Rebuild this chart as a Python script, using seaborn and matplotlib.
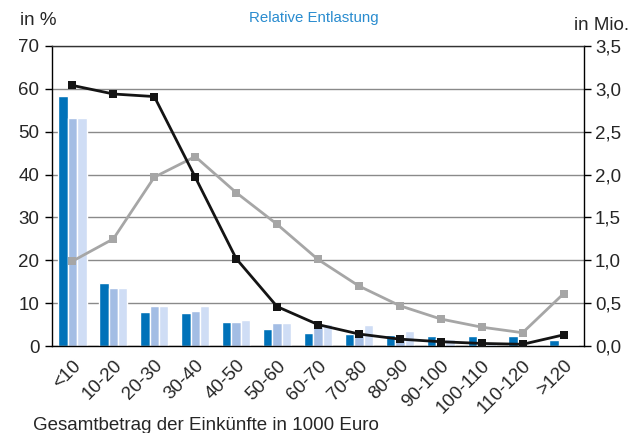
import numpy as np
import pandas as pd
import matplotlib
matplotlib.use("Agg")
import matplotlib.pyplot as plt
import seaborn as sns

# Daten
kategorien = ["<10", "10-20", "20-30", "30-40", "40-50", "50-60", "60-70",
              "70-80", "80-90", "90-100", "100-110", "110-120", ">120"]
reihe_1 = [58.4, 14.8, 7.9, 7.7, 5.6, 4.0, 3.0, 2.9, 2.6, 2.3, 2.3, 2.3, 1.4]
reihe_2 = [53.3, 13.5, 9.3, 8.2, 5.6, 5.4, 5.2, 2.8, 2.2, 1.9, 0.5, 0.3, 0.2]
reihe_3 = [53.3, 13.5, 9.3, 9.3, 6.1, 5.4, 5.2, 4.9, 3.5, 1.6, 0.4, 0.3, 0.2]
linie_schwarz = [3.04, 2.94, 2.91, 1.97, 1.02, 0.46, 0.25, 0.14, 0.08, 0.05, 0.03, 0.02, 0.13]
linie_grau = [0.99, 1.25, 1.97, 2.21, 1.79, 1.42, 1.01, 0.70, 0.47, 0.315, 0.22, 0.155, 0.61]

df = pd.DataFrame({
    "kategorie": kategorien * 3,
    "wert": reihe_1 + reihe_2 + reihe_3,
    "reihe": ["Reihe 1"] * 13 + ["Reihe 2"] * 13 + ["Reihe 3"] * 13,
})

sns.set_style("white")
plt.rcParams["font.family"] = ["Liberation Sans", "DejaVu Sans"]

fig = plt.figure(figsize=(6.31, 4.33), dpi=100)
ax = fig.add_axes([0.0824, 0.2009, 0.8431, 0.6929])

farben = ["#0072b9", "#a3bde4", "#cfddf5"]
sns.barplot(data=df, x="kategorie", y="wert", hue="reihe", palette=farben,
            width=0.69, gap=0, ax=ax, legend=False, saturation=1)

ax.set_ylim(0, 70)
ax.set_xlim(-0.5, 12.5)
ax.set_yticks(range(0, 71, 10))
ax.yaxis.grid(True, color="#8a8a8a", linewidth=1)
ax.set_axisbelow(True)
ax.set_xlabel("")
ax.set_ylabel("")

# Tickmarken zwischen den Kategorien
ax.set_xticks(np.arange(13))
ax.set_xticklabels(kategorien, rotation=45, ha="right", rotation_mode="anchor", fontsize=13.5)
ax.set_xticks(np.arange(-0.5, 13, 1), minor=True)
ax.tick_params(axis="x", which="major", length=0, pad=8)
ax.tick_params(axis="x", which="minor", length=5, width=1, color="black", direction="out")
ax.tick_params(axis="y", length=5, width=1, color="black", direction="out", labelsize=13.5, pad=4)

for s in ["left", "bottom", "right", "top"]:
    ax.spines[s].set_visible(True)
    ax.spines[s].set_color("black")
    ax.spines[s].set_linewidth(1)
ax.spines["top"].set_color("#333333")

ax2 = ax.twinx()
pos = np.arange(13)
sns.lineplot(x=pos, y=linie_grau, ax=ax2, color="#a6a6a6", linewidth=2.0,
             marker="s", markersize=6.2, markeredgewidth=0)
sns.lineplot(x=pos, y=linie_schwarz, ax=ax2, color="#141414", linewidth=2.0,
             marker="s", markersize=6.2, markeredgewidth=0)
ax2.set_ylim(0, 3.5)
ax2.set_xlim(-0.5, 12.5)
rechts = np.arange(0, 3.51, 0.5)
ax2.set_yticks(rechts)
ax2.set_yticklabels([f"{v:.1f}".replace(".", ",") for v in rechts])
ax2.tick_params(axis="y", length=5, width=1, color="black", direction="out", labelsize=13.5, pad=3)
ax2.grid(False)
for s in ax2.spines.values():
    s.set_visible(False)

fig.text(0.497, 0.958, "Relative Entlastung", color="#2a8ccf", fontsize=10.8,
         ha="center", va="center")
fig.text(0.031, 0.952, "in %", fontsize=13.5, ha="left", va="center")
fig.text(0.953, 0.942, "in Mio.", fontsize=13.5, ha="center", va="center")
fig.text(0.052, 0.017, "Gesamtbetrag der Einkünfte in 1000 Euro", fontsize=13.5,
         ha="left", va="center")

fig.savefig("out.png", dpi=100)
